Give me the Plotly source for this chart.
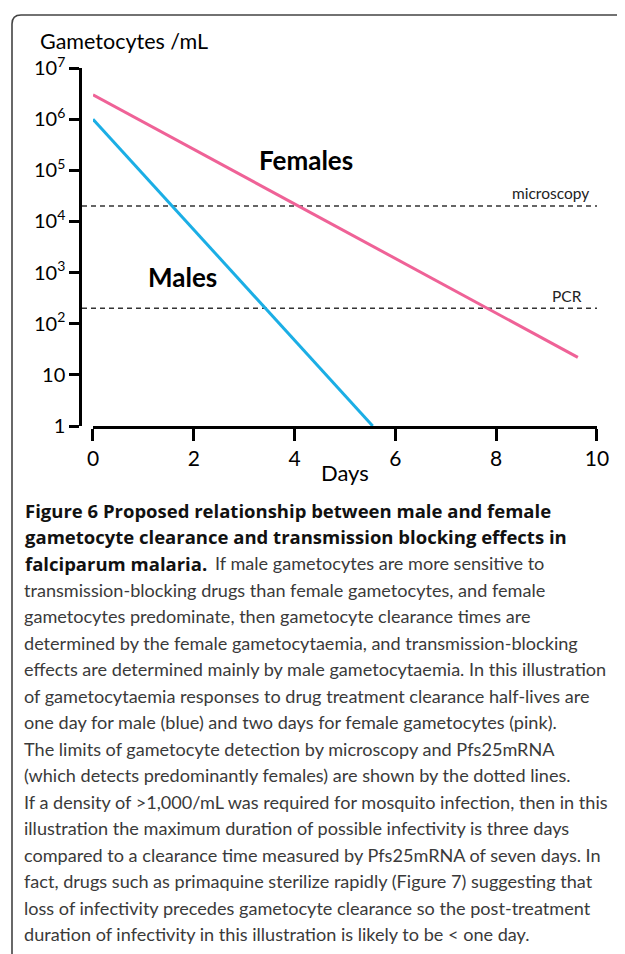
import plotly.graph_objects as go

# ---------------- data ----------------
male_days = [0, 5.55]
male_gametocytes = [1e6, 1]
female_days = [0, 9.62]
female_gametocytes = [3e6, 22]
limit_names = ["microscopy", "PCR"]
limit_levels = [2e4, 200]
x_tick_vals = [0, 2, 4, 6, 8, 10]
y_tick_vals = [1, 10, 1e2, 1e3, 1e4, 1e5, 1e6, 1e7]
y_tick_text = ["1", "10", "10<sup>2</sup>", "10<sup>3</sup>", "10<sup>4</sup>",
               "10<sup>5</sup>", "10<sup>6</sup>", "10<sup>7</sup>"]
caption_bold = [
    "Figure 6 Proposed relationship between male and female",
    "gametocyte clearance and transmission blocking effects in",
    "falciparum malaria.",
]
caption_body = [
    "If male gametocytes are more sensitive to",
    "transmission-blocking drugs than female gametocytes, and female",
    "gametocytes predominate, then gametocyte clearance times are",
    "determined by the female gametocytaemia, and transmission-blocking",
    "effects are determined mainly by male gametocytaemia. In this illustration",
    "of gametocytaemia responses to drug treatment clearance half-lives are",
    "one day for male (blue) and two days for female gametocytes (pink).",
    "The limits of gametocyte detection by microscopy and Pfs25mRNA",
    "(which detects predominantly females) are shown by the dotted lines.",
    "If a density of &gt;1,000/mL was required for mosquito infection, then in this",
    "illustration the maximum duration of possible infectivity is three days",
    "compared to a clearance time measured by Pfs25mRNA of seven days. In",
    "fact, drugs such as primaquine sterilize rapidly (Figure 7) suggesting that",
    "loss of infectivity precedes gametocyte clearance so the post-treatment",
    "duration of infectivity in this illustration is likely to be &lt; one day.",
]

# ---------------- layout geometry (page pixels) ----------------
OFF = 8                      # default page body margin
PW, PH = 625, 954            # page size
W, H = PW - OFF, PH - OFF    # figure size
L, R, T, B = 82, 597, 68, 426
x_range = [-0.218, 10]


def px(x):
    return (x - L) / (R - L)


def py(y):
    return (B - y) / (B - T)


FONT = "Lato"
CAP_BOLD = "Open Sans"
PINK = "#EF6297"
BLUE = "#1BAEE5"

fig = go.Figure()

# detection limits
for name, lvl in zip(limit_names, limit_levels):
    fig.add_trace(go.Scatter(x=x_range, y=[lvl, lvl], mode="lines",
                             line=dict(color="#333333", width=1.5, dash="5px,4px"),
                             hoverinfo="skip", showlegend=False))

fig.add_trace(go.Scatter(x=female_days, y=female_gametocytes, mode="lines", xaxis="x2",
                         line=dict(color=PINK, width=3), name="Females", showlegend=False))
fig.add_trace(go.Scatter(x=male_days, y=male_gametocytes, mode="lines", xaxis="x2",
                         line=dict(color=BLUE, width=3), name="Males", showlegend=False))

fig.update_layout(
    width=W, height=H,
    margin=dict(l=L - OFF, r=W + OFF - R, t=T - OFF, b=H + OFF - B, pad=0),
    paper_bgcolor="white", plot_bgcolor="rgba(0,0,0,0)",
    font=dict(family=FONT, color="black"),
    xaxis=dict(range=x_range, visible=False, domain=[0, 1]),
    xaxis2=dict(range=[0, 10], anchor="y",
                domain=[(0 - x_range[0]) / (x_range[1] - x_range[0]), 1],
                showline=True, linecolor="black", linewidth=2.5,
                ticks="outside", ticklen=12, tickwidth=2.5, tickcolor="black",
                tickvals=x_tick_vals, tickfont=dict(size=21, family=FONT, color="black"),
                showgrid=False, zeroline=False),
    yaxis=dict(type="log", range=[0, 7], showline=True, linecolor="black", linewidth=2.5,
               ticks="outside", ticklen=10, tickwidth=2.5, tickcolor="black",
               tickvals=y_tick_vals, ticktext=y_tick_text,
               tickfont=dict(size=20, family=FONT, color="black"),
               showgrid=False, zeroline=False),
)


def text(t, x, y, size, family=FONT, color="black", xanchor="left"):
    return dict(text=t, x=px(x), y=py(y), xref="paper", yref="paper",
                xanchor=xanchor, yanchor="middle", showarrow=False,
                font=dict(size=size, family=family, color=color))


ann = [
    text("Gametocytes /mL", 38, 41, 21.5),
    text("Days", 345, 472, 22, xanchor="center"),
    text("<b>Females</b>", 306, 160, 26, xanchor="center"),
    text("<b>Males</b>", 182, 277, 26, xanchor="center"),
    text("microscopy", 591, 193, 15.5, color="#222222", xanchor="right"),
    text("PCR", 584, 296, 15.5, color="#222222", xanchor="right"),
]

LINE0, DY = 510, 26.5
for i, t in enumerate(caption_bold):
    ann.append(text(f"<b>{t}</b>", 23, LINE0 + i * DY, 18.5, family=CAP_BOLD, color="#111111"))
for i, t in enumerate(caption_body):
    row = i + 2
    x = 213 if row == 2 else 22
    ann.append(text(t, x, LINE0 + row * DY, 18.1, color="#3a3a3a"))

fig.update_layout(annotations=ann)

# frame (rounded top-left corner)
r = 9
x0, y0 = 12, 15
path = (f"M {px(x0)},{py(PH + 5)} L {px(x0)},{py(y0 + r)} "
        f"Q {px(x0)},{py(y0)} {px(x0 + r)},{py(y0)} L {px(PW + 5)},{py(y0)}")
fig.add_shape(type="path", path=path, xref="paper", yref="paper",
              line=dict(color="#444444", width=1.6))

fig.write_html("out.html")
